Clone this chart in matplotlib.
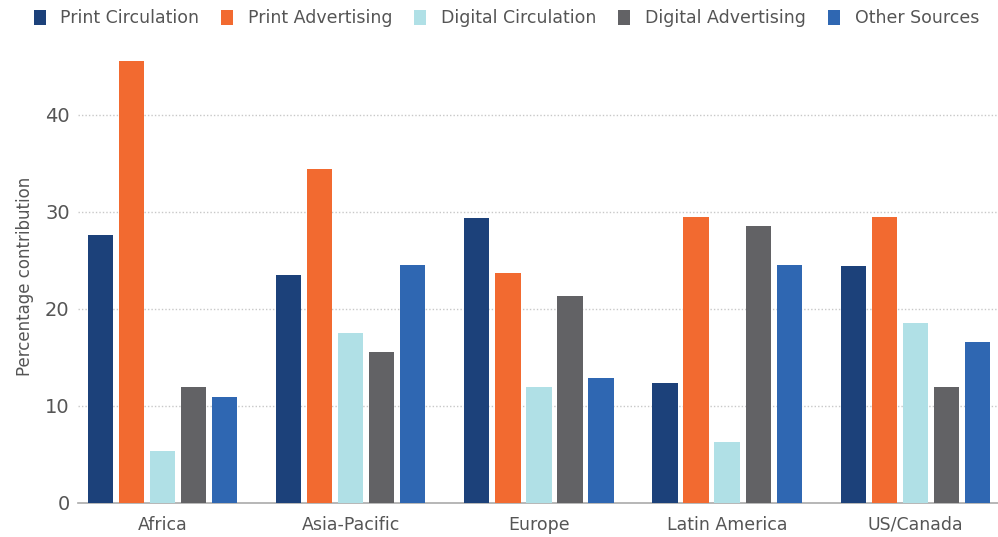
import numpy as np
import matplotlib
matplotlib.use("Agg")
import matplotlib.pyplot as plt
from matplotlib.patches import Patch

plt.rcParams['font.family'] = ['DejaVu Sans']

# data
regions = ['Africa', 'Asia-Pacific', 'Europe', 'Latin America', 'US/Canada']
series = ['Print Circulation', 'Print Advertising', 'Digital Circulation',
          'Digital Advertising', 'Other Sources']
print_circulation = [27.6, 23.5, 29.4, 12.4, 24.4]
print_advertising = [45.6, 34.4, 23.7, 29.5, 29.5]
digital_circulation = [5.4, 17.5, 12.0, 6.3, 18.6]
digital_advertising = [12.0, 15.6, 21.3, 28.6, 12.0]
other_sources = [10.9, 24.5, 12.9, 24.5, 16.6]
values = [print_circulation, print_advertising, digital_circulation,
          digital_advertising, other_sources]
colors = ['#1c417a', '#f26a30', '#b0e0e6', '#626265', '#2f67b2']

fig = plt.figure(figsize=(9.98, 5.37), dpi=100)
ax = fig.add_axes([78 / 998, 34 / 537, 920 / 998, 453 / 537])

x = np.arange(len(regions))
step = 0.165
width = 0.134
for i, (vals, c) in enumerate(zip(values, colors)):
    ax.bar(x + (i - 2) * step, vals, width=width, color=c, zorder=3)

ax.set_xlim(-0.45, 4.44)
ax.set_ylim(0, 46.7)
ax.set_yticks([0, 10, 20, 30, 40])
ax.set_xticks(x)
ax.set_xticklabels(regions, fontsize=12.5, color='#555555')
ax.tick_params(axis='y', labelsize=14, labelcolor='#555555', length=0, pad=6)
ax.tick_params(axis='x', length=0, pad=9)

for y in [10, 20, 30, 40]:
    ax.axhline(y, color='#c8c8c8', linestyle=(0, (1, 1.5)), linewidth=1, zorder=1)
for s in ['top', 'right', 'left']:
    ax.spines[s].set_visible(False)
ax.spines['bottom'].set_color('#aaaaaa')
ax.spines['bottom'].set_linewidth(1.2)

ax.set_ylabel('Percentage contribution', fontsize=12, color='#555555', labelpad=8)

handles = [Patch(facecolor=c, label=s) for s, c in zip(series, colors)]
fig.legend(handles=handles, loc='upper left', bbox_to_anchor=(0.018, 1.012),
           ncol=5, frameon=False, fontsize=12.5, handlelength=0.7,
           handleheight=0.95, handletextpad=0.85, columnspacing=1.25,
           labelcolor='#555555')

fig.savefig('out.png', dpi=100)
